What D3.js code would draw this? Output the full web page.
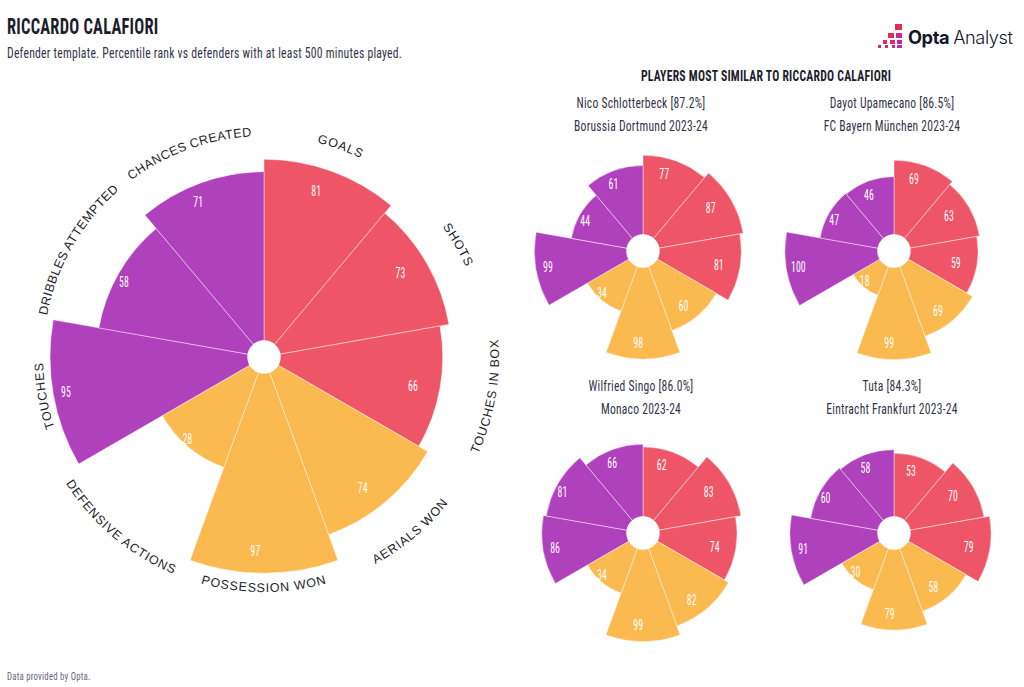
<!DOCTYPE html>
<html><head><meta charset="utf-8">
<script src="https://cdn.jsdelivr.net/npm/d3@7/dist/d3.min.js"></script>
<style>html,body{margin:0;padding:0;background:#fff}svg{display:block}</style>
</head><body><svg id="c" width="1024" height="687"></svg>
<script>
const metrics = ["GOALS","SHOTS","TOUCHES IN BOX","AERIALS WON","POSSESSION WON","DEFENSIVE ACTIONS","TOUCHES","DRIBBLES ATTEMPTED","CHANCES CREATED"];
const groups = ["attack","attack","attack","defence","defence","defence","possession","possession","possession"];
const calafiori = [81,73,66,74,97,28,95,58,71];
const schlotterbeck = [77,87,81,60,98,34,99,44,61];
const upamecano = [69,63,59,69,99,18,100,47,46];
const singo = [62,83,74,82,99,34,86,81,66];
const tuta = [53,70,79,58,79,30,91,60,58];
const titleText = "RICCARDO CALAFIORI";
const subtitleText = "Defender template. Percentile rank vs defenders with at least 500 minutes played.";
const similarTitle = "PLAYERS MOST SIMILAR TO RICCARDO CALAFIORI";
const footerText = "Data provided by Opta.";

const condensed = "'Liberation Sans Narrow','Roboto Condensed','Liberation Sans',sans-serif";
const colour = d3.scaleOrdinal(["attack","defence","possession"],["#EE5566","#FBBA50","#B041BC"]);
const ink = "#1d1d2c";
const svg = d3.select("#c");
const band = d3.scaleBand().domain(d3.range(metrics.length)).range([0,2*Math.PI]);
const radial = d3.scaleRadial().domain([0,100]).range([20,219.5]);

// condensed text: same glyph height, narrowed horizontally
function cond(parent,txt,x,y,size,sx,opts={}){
  return parent.append("text").attr("transform",`translate(${x},${y}) scale(${sx},1)`)
    .attr("font-family",condensed).attr("font-size",size)
    .attr("font-weight",opts.weight||400).attr("letter-spacing",opts.ls||.3)
    .attr("text-anchor",opts.anchor||"start").attr("dominant-baseline",opts.base||"auto")
    .attr("fill",opts.fill||"#33334a").text(txt);
}

function pizza(values,cx,cy,k,insets,angles,fontSize){
  const g = svg.append("g").attr("transform",`translate(${cx},${cy})`);
  const arc = d3.arc().innerRadius(0);
  g.selectAll("path.seg").data(values).join("path").attr("class","seg")
    .attr("d",(v,i)=>arc({startAngle:band(i),endAngle:band(i)+band.bandwidth(),outerRadius:radial(v)*k}))
    .attr("fill",(v,i)=>colour(groups[i]))
    .attr("stroke","#fff").attr("stroke-opacity",.55).attr("stroke-width",.8);
  g.append("circle").attr("r",16.7).attr("fill","#fff");
  values.forEach((v,i)=>{
    const r=radial(v)*k-insets[i], a=angles[i]*Math.PI/180;
    cond(g,v,r*Math.sin(a),-r*Math.cos(a),fontSize,.7,{anchor:"middle",base:"central",fill:"#fff",ls:.2});
  });
}

const mainInsets=[24,28,27,25,22,5,13,9,17], mainAngles=[17.5,58.6,101,143,182.6,223,260,298,337];
const smallInsets=[16,22,21,16,16,5,12,8,13], smallAngles=[15.5,58,101,144,183,224,260,297,336];
pizza(calafiori,264,357,1,mainInsets,mainAngles,14);

const comps=[
 {name:"Nico Schlotterbeck [87.2%]",team:"Borussia Dortmund 2023-24",values:schlotterbeck,cx:643,cy:251,ty:103},
 {name:"Dayot Upamecano [86.5%]",team:"FC Bayern München 2023-24",values:upamecano,cx:894,cy:251,ty:103},
 {name:"Wilfried Singo [86.0%]",team:"Monaco 2023-24",values:singo,cx:643,cy:533,ty:386},
 {name:"Tuta [84.3%]",team:"Eintracht Frankfurt 2023-24",values:tuta,cx:894,cy:533,ty:386}];
comps.forEach(c=>{
  pizza(c.values,c.cx,c.cy,.497,smallInsets,smallAngles,14);
  cond(svg,c.name,c.cx-2,c.ty,14.5,.8,{anchor:"middle",base:"central"});
  cond(svg,c.team,c.cx-2,c.ty+23,14.5,.8,{anchor:"middle",base:"central"});
});

// curved metric labels
const defs=svg.append("defs");
metrics.forEach((m,i)=>{
  const mid=band(i)+band.bandwidth()/2-Math.PI/2, span=1.1;
  const ccw = i>=2 && i<=5;
  const r = ccw?235:221;
  const p=d3.path();
  if(ccw) p.arc(264,357,r,mid+span,mid-span,true); else p.arc(264,357,r,mid-span,mid+span,false);
  defs.append("path").attr("id","lab"+i).attr("d",p.toString());
  svg.append("text").attr("font-family","'Liberation Sans',Arial,sans-serif").attr("font-size",12.5)
    .attr("letter-spacing",i>=7?.45:.85).attr("fill",ink).attr("text-anchor","middle")
    .append("textPath").attr("href","#lab"+i).attr("startOffset","50%").text(m);
});

// headings
cond(svg,titleText,7,34,22,.75,{weight:700,fill:ink});
cond(svg,subtitleText,7,58,14.5,.806);
cond(svg,similarTitle,766,76,15,.78,{weight:700,fill:ink,anchor:"middle",base:"central"});
cond(svg,footerText,7,680,10.5,.84,{fill:"#66667a",ls:.25});

// logo
const logoSquares=[[895,24,7,6,"#E62A50"],[888,33,6,5,"#E62A50"],[896,33,6,5,"#C42A9A"],
 [883,40,4,4,"#E62A50"],[890,40,5,4,"#DB2A6A"],[897,40,5,4,"#B42BB0"],
 [878,45,3,3,"#E62A50"],[885,45,3,3,"#DB2A6A"],[892,45,3,3,"#C42A9A"],[897,45,5,3,"#B42BB0"]];
svg.selectAll("rect.logo").data(logoSquares).join("rect").attr("class","logo")
  .attr("x",d=>d[0]).attr("y",d=>d[1]).attr("width",d=>d[2]).attr("height",d=>d[3]).attr("fill",d=>d[4]);
const logo=svg.append("text").attr("x",908).attr("y",44).attr("font-family","Inter,'Liberation Sans',sans-serif")
  .attr("font-size",18.2).attr("letter-spacing",-.4).attr("fill","#16162a");
logo.append("tspan").attr("font-weight",700).text("Opta");
logo.append("tspan").attr("dx",4).attr("font-weight",300).text("Analyst");
</script></body></html>
